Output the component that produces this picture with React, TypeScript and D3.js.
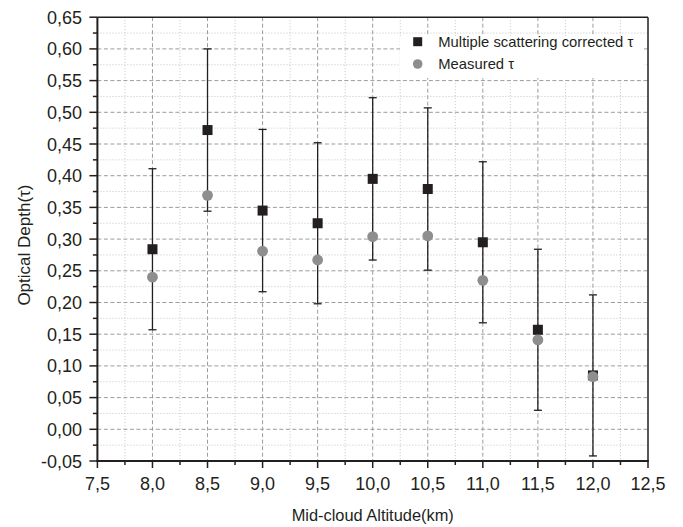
import { useEffect, useRef } from 'react'
import * as d3 from 'd3'

// values
const altitude = [8.0, 8.5, 9.0, 9.5, 10.0, 10.5, 11.0, 11.5, 12.0]
const corrected = [0.284, 0.472, 0.345, 0.325, 0.395, 0.379, 0.295, 0.157, 0.085]
const correctedErr = [0.127, 0.128, 0.128, 0.127, 0.128, 0.128, 0.127, 0.127, 0.127]
const measured = [0.24, 0.369, 0.281, 0.267, 0.304, 0.305, 0.235, 0.141, 0.083]

const xTicks = [7.5, 8.0, 8.5, 9.0, 9.5, 10.0, 10.5, 11.0, 11.5, 12.0, 12.5]
const yTicks = [-0.05, 0, 0.05, 0.1, 0.15, 0.2, 0.25, 0.3, 0.35, 0.4, 0.45, 0.5, 0.55, 0.6, 0.65]

const legendLabels = ['Multiple scattering corrected τ', 'Measured τ']

const W = 683
const H = 527
const FONT = '"Liberation Sans", Arial, sans-serif'
const INK = '#231f20'

export default function App() {
  const svgRef = useRef<SVGSVGElement>(null)

  useEffect(() => {
    if (!svgRef.current) return
    const svg = d3.select(svgRef.current)
    svg.selectAll('*').remove()

    const left = 97.4
    const right = 648
    const top = 17.2
    const bottom = 461

    const x = d3.scaleLinear().domain([7.5, 12.5]).range([left, right])
    const y = d3.scaleLinear().domain([-0.05, 0.65]).range([bottom, top])

    // minor positions halfway between majors
    const xMinor = xTicks.slice(0, -1).map((d, i) => (d + xTicks[i + 1]) / 2)
    const yMinor = yTicks.slice(0, -1).map((d, i) => (d + yTicks[i + 1]) / 2)

    const grid = svg.append('g')
    // minor dotted grid
    grid.selectAll('.gxm').data(xMinor).enter().append('line')
      .attr('x1', d => x(d)).attr('x2', d => x(d))
      .attr('y1', top).attr('y2', bottom)
      .attr('stroke', '#c4c4c4').attr('stroke-width', 1).attr('stroke-dasharray', '1,2')
    grid.selectAll('.gym').data(yMinor).enter().append('line')
      .attr('x1', left).attr('x2', right)
      .attr('y1', d => y(d)).attr('y2', d => y(d))
      .attr('stroke', '#c4c4c4').attr('stroke-width', 1).attr('stroke-dasharray', '1,2')
    // major dashed grid
    grid.selectAll('.gx').data(xTicks.slice(1, -1)).enter().append('line')
      .attr('x1', d => x(d)).attr('x2', d => x(d))
      .attr('y1', top).attr('y2', bottom)
      .attr('stroke', '#9c9c9c').attr('stroke-width', 1).attr('stroke-dasharray', '4,2.5')
    grid.selectAll('.gy').data(yTicks.slice(1, -1)).enter().append('line')
      .attr('x1', left).attr('x2', right)
      .attr('y1', d => y(d)).attr('y2', d => y(d))
      .attr('stroke', '#9c9c9c').attr('stroke-width', 1).attr('stroke-dasharray', '4,2.5')

    // legend background hides the grid
    svg.append('rect')
      .attr('x', 400).attr('y', 36).attr('width', 244).attr('height', 42)
      .attr('fill', '#fff')

    // error bars
    const eb = svg.append('g').attr('stroke', INK).attr('stroke-width', 1.3)
    altitude.forEach((a, i) => {
      const cx = x(a)
      const hi = y(corrected[i] + correctedErr[i])
      const lo = y(corrected[i] - correctedErr[i])
      eb.append('line').attr('x1', cx).attr('x2', cx).attr('y1', hi).attr('y2', lo)
      eb.append('line').attr('x1', cx - 4).attr('x2', cx + 4).attr('y1', hi).attr('y2', hi)
      eb.append('line').attr('x1', cx - 4).attr('x2', cx + 4).attr('y1', lo).attr('y2', lo)
    })

    // corrected (squares)
    svg.selectAll('.sq').data(altitude).enter().append('rect')
      .attr('x', d => x(d) - 5).attr('y', (d, i) => y(corrected[i]) - 5)
      .attr('width', 10).attr('height', 10)
      .attr('fill', INK)

    // measured (circles)
    svg.selectAll('.ci').data(altitude).enter().append('circle')
      .attr('cx', d => x(d)).attr('cy', (d, i) => y(measured[i]))
      .attr('r', 5.4)
      .attr('fill', '#8e8e8e')

    // frame
    svg.append('line').attr('x1', left).attr('x2', right).attr('y1', top).attr('y2', top)
      .attr('stroke', INK).attr('stroke-width', 1.5)
    svg.append('line').attr('x1', right).attr('x2', right).attr('y1', top).attr('y2', bottom)
      .attr('stroke', INK).attr('stroke-width', 1.5)
    svg.append('line').attr('x1', left).attr('x2', left).attr('y1', top).attr('y2', bottom + 1)
      .attr('stroke', INK).attr('stroke-width', 2)
    svg.append('line').attr('x1', left - 1).attr('x2', right + 0.75).attr('y1', bottom).attr('y2', bottom)
      .attr('stroke', INK).attr('stroke-width', 2)

    // ticks
    const tk = svg.append('g').attr('stroke', INK).attr('stroke-width', 1.5)
    xTicks.forEach(d => {
      tk.append('line').attr('x1', x(d)).attr('x2', x(d)).attr('y1', bottom).attr('y2', bottom + 7)
    })
    xMinor.forEach(d => {
      tk.append('line').attr('x1', x(d)).attr('x2', x(d)).attr('y1', bottom).attr('y2', bottom + 4)
    })
    yTicks.forEach(d => {
      tk.append('line').attr('x1', left - 8).attr('x2', left).attr('y1', y(d)).attr('y2', y(d))
    })
    yMinor.forEach(d => {
      tk.append('line').attr('x1', left - 4.5).attr('x2', left).attr('y1', y(d)).attr('y2', y(d))
    })

    const fmt = (v: number, n: number) => v.toFixed(n).replace('.', ',').replace(/^-0,00$/, '0,00')

    svg.selectAll('.xl').data(xTicks).enter().append('text')
      .attr('x', d => x(d)).attr('y', 490)
      .attr('text-anchor', 'middle')
      .attr('font-family', FONT).attr('font-size', 18).attr('fill', INK)
      .text(d => fmt(d, 1))

    svg.selectAll('.yl').data(yTicks).enter().append('text')
      .attr('x', 82).attr('y', d => y(d) + 6.5)
      .attr('text-anchor', 'end')
      .attr('font-family', FONT).attr('font-size', 18).attr('fill', INK)
      .text(d => fmt(d, 2))

    // axis titles
    svg.append('text')
      .attr('x', (left + right) / 2).attr('y', 520.5)
      .attr('text-anchor', 'middle')
      .attr('font-family', FONT).attr('font-size', 16.4).attr('fill', INK)
      .text('Mid-cloud Altitude(km)')

    svg.append('text')
      .attr('transform', `translate(30,${(top + bottom) / 2 + 6}) rotate(-90)`)
      .attr('text-anchor', 'middle')
      .attr('font-family', FONT).attr('font-size', 17).attr('fill', INK)
      .text('Optical Depth(τ)')

    // legend
    const lg = svg.append('g')
    lg.append('rect').attr('x', 413.2).attr('y', 37.2).attr('width', 9).attr('height', 9).attr('fill', INK)
    lg.append('circle').attr('cx', 417.7).attr('cy', 64).attr('r', 4.8).attr('fill', '#8e8e8e')
    lg.selectAll('text').data(legendLabels).enter().append('text')
      .attr('x', 438.3).attr('y', (d, i) => 46.7 + i * 22.3)
      .attr('font-family', FONT).attr('font-size', 14.8).attr('fill', INK)
      .text(d => d)
  }, [])

  return (
    <svg
      ref={svgRef}
      width={W}
      height={H}
      style={{ position: 'absolute', left: 0, top: 0, background: '#fff' }}
    />
  )
}
